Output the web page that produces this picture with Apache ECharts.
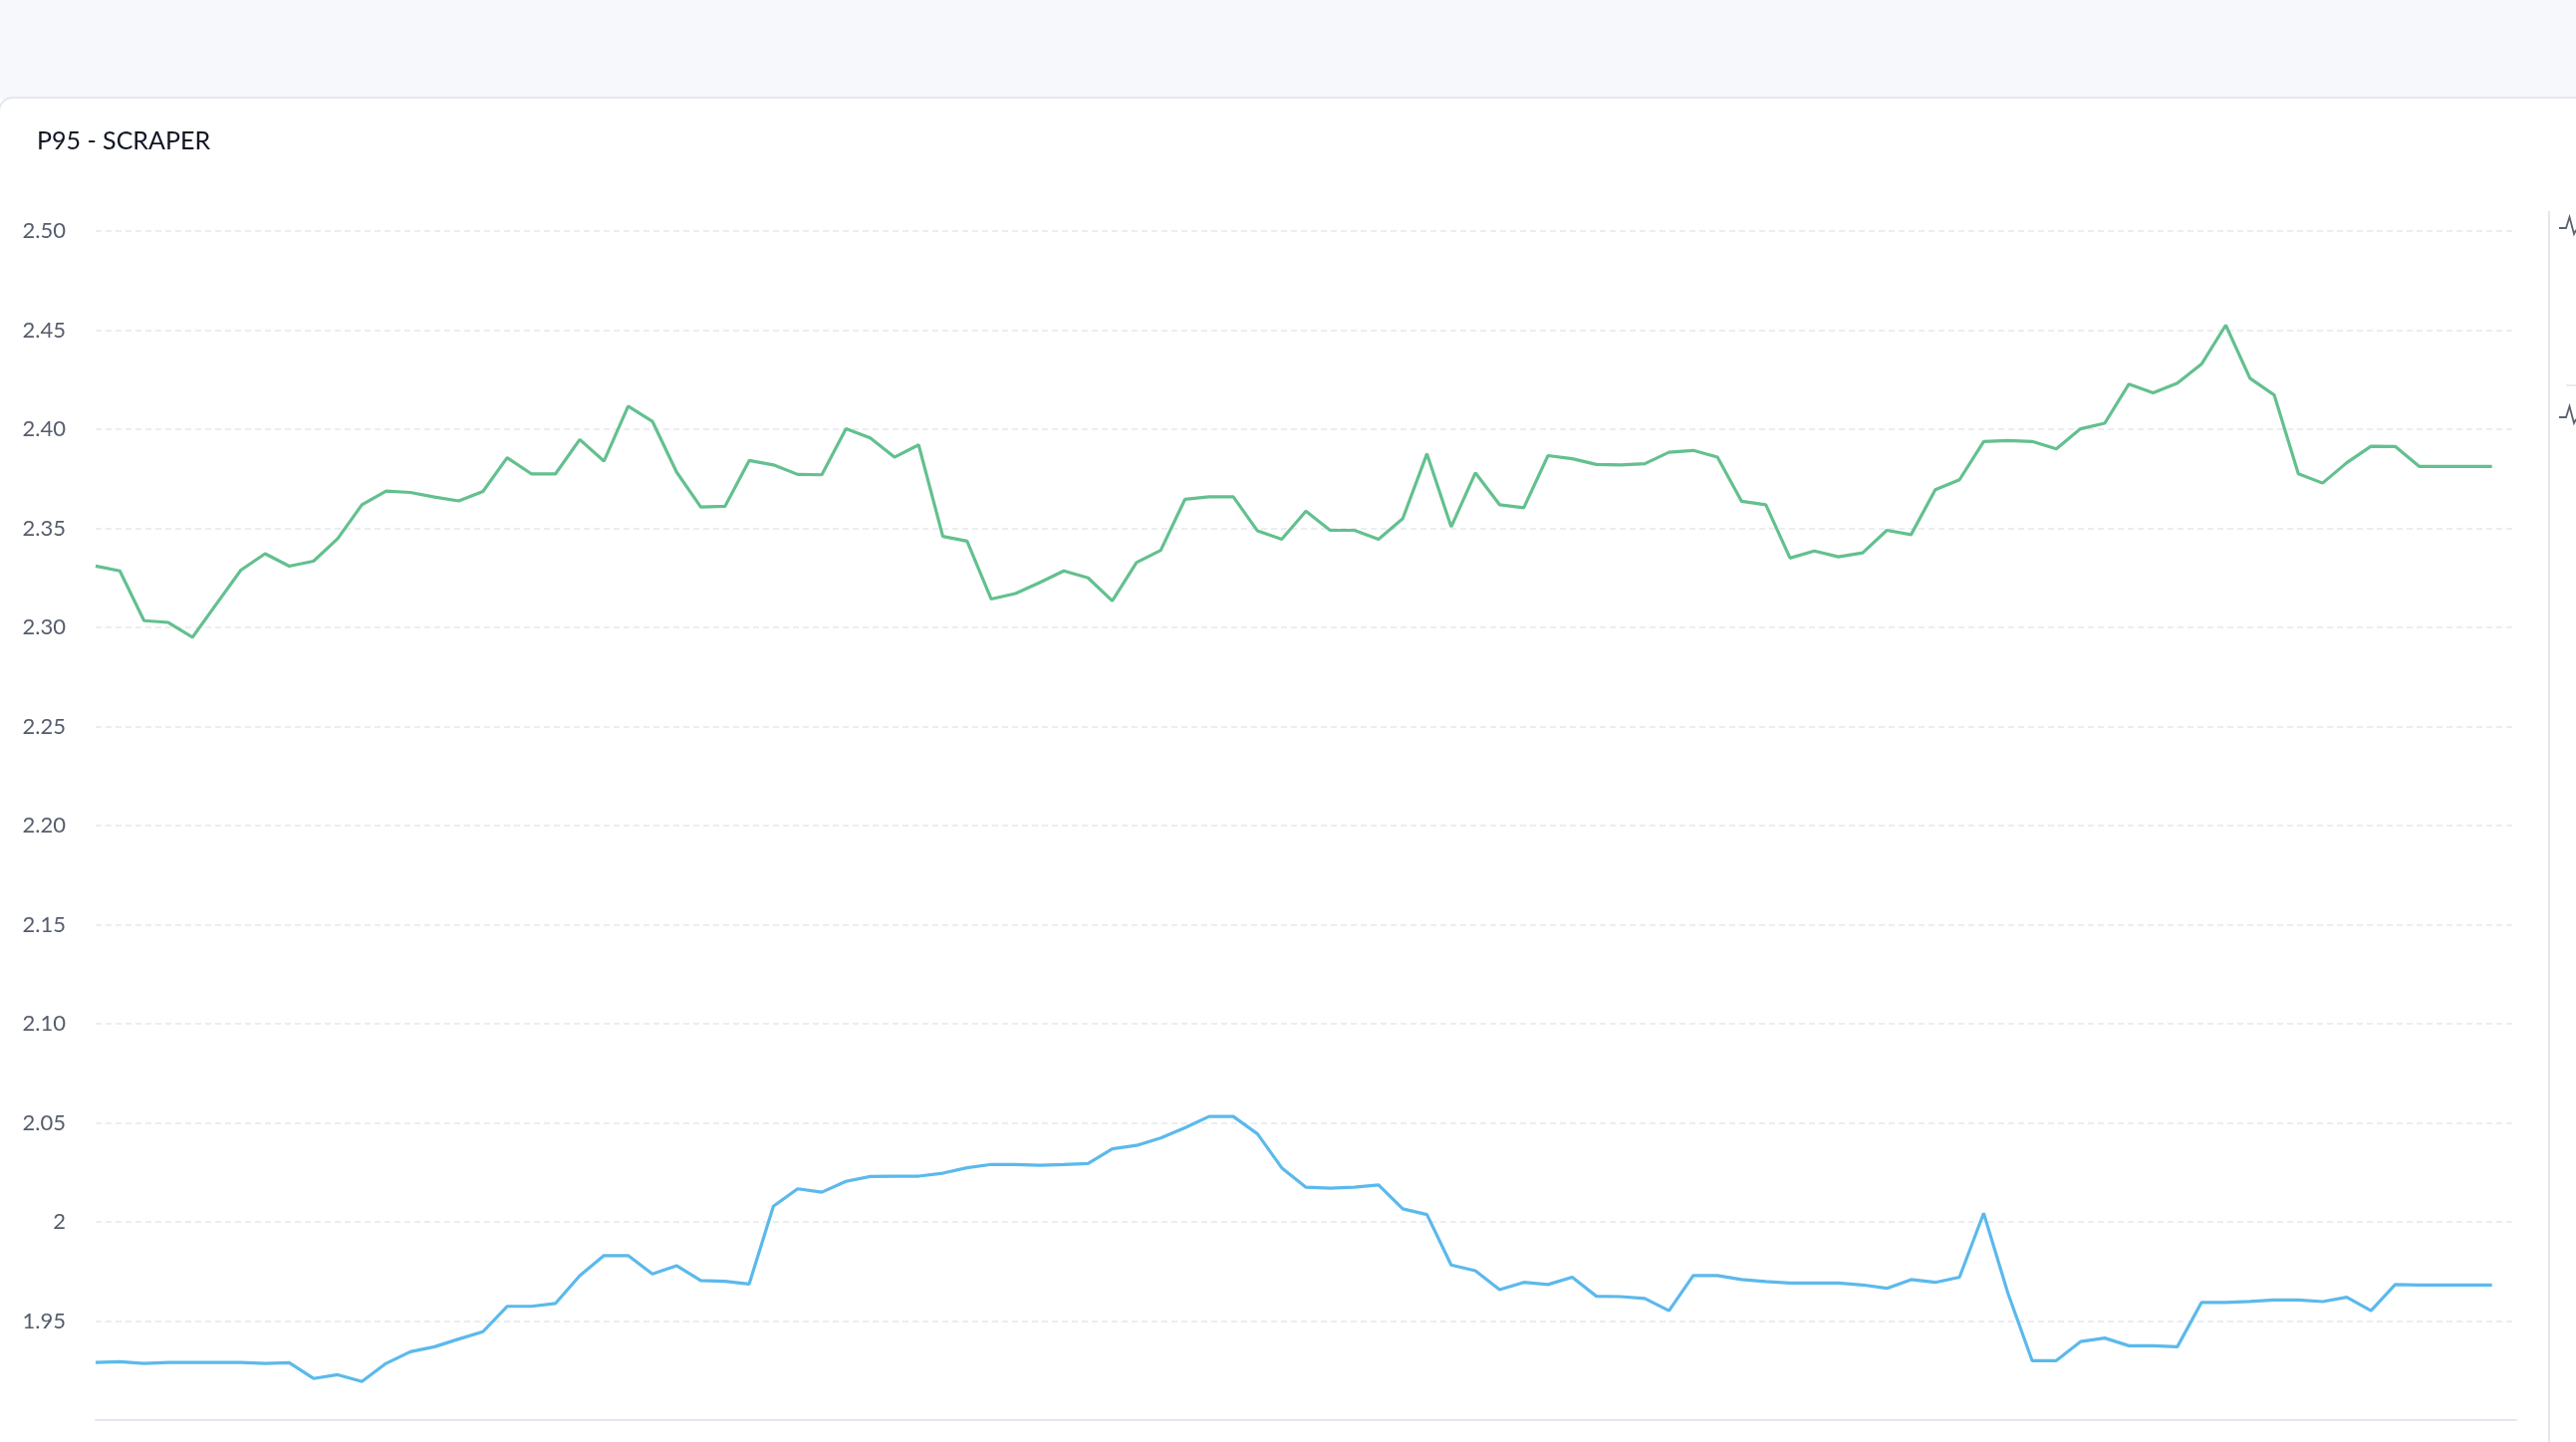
<!DOCTYPE html>
<html>
<head>
<meta charset="utf-8">
<script src="https://cdn.jsdelivr.net/npm/echarts@6/dist/echarts.min.js"></script>
<style>
  html, body { margin: 0; padding: 0; background: #ffffff; }
  #chart { width: 2586px; height: 1448px; }
</style>
</head>
<body>
<div id="chart"></div>
<script>
// ---- data ----
const chartTitle = 'P95 - SCRAPER';
const yTicks = { min: 1.9, max: 2.5, step: 0.05 };

const greenValues = [
  2.331, 2.3285, 2.3034, 2.3025, 2.295, 2.312, 2.3289, 2.3372, 2.3309, 2.3334,
  2.3448, 2.3619, 2.3688, 2.3681, 2.3658, 2.3638, 2.3686, 2.3856, 2.3775, 2.3775,
  2.3948, 2.3839, 2.4116, 2.404, 2.3784, 2.3607, 2.3611, 2.3842, 2.382, 2.3772,
  2.377, 2.4002, 2.3956, 2.3859, 2.3921, 2.3459, 2.3435, 2.3143, 2.3171, 2.3226,
  2.3285, 2.325, 2.3134, 2.3327, 2.3389, 2.3646, 2.3659, 2.3659, 2.3487, 2.3445,
  2.3587, 2.349, 2.349, 2.3445, 2.3549, 2.3876, 2.3507, 2.378, 2.3619, 2.3604,
  2.3867, 2.3851, 2.3822, 2.382, 2.3826, 2.3884, 2.3893, 2.3859, 2.3636, 2.3619,
  2.335, 2.3386, 2.3356, 2.3376, 2.349, 2.3468, 2.3695, 2.3745, 2.3938, 2.3943,
  2.3938, 2.3901, 2.4002, 2.403, 2.4228, 2.4183, 2.4232, 2.4329, 2.4525, 2.4257,
  2.4173, 2.3775, 2.3728, 2.3831, 2.3914, 2.3913, 2.3812, 2.3812, 2.3812, 2.3812,
  null
];

const blueValues = [
  1.9291, 1.9295, 1.9286, 1.9291, 1.9291, 1.9291, 1.9291, 1.9286, 1.929, 1.921,
  1.9229, 1.9195, 1.9286, 1.9345, 1.937, 1.9409, 1.9446, 1.9574, 1.9574, 1.9589,
  1.9729, 1.983, 1.983, 1.9737, 1.9779, 1.9704, 1.97, 1.9687, 2.0079, 2.0167,
  2.015, 2.0205, 2.0229, 2.0231, 2.0231, 2.0246, 2.0273, 2.029, 2.029, 2.0286,
  2.029, 2.0295, 2.0369, 2.0386, 2.0423, 2.0475, 2.0532, 2.0532, 2.0444, 2.0273,
  2.0175, 2.017, 2.0175, 2.0187, 2.0066, 2.0037, 1.9783, 1.9754, 1.9658, 1.9695,
  1.9684, 1.9721, 1.9625, 1.9623, 1.9614, 1.9552, 1.9729, 1.9729, 1.9709, 1.9699,
  1.9692, 1.9692, 1.9692, 1.9682, 1.9665, 1.9709, 1.9695, 1.9721, 2.0044, 1.9641,
  1.93, 1.93, 1.9396, 1.9414, 1.9375, 1.9375, 1.937, 1.9594, 1.9594, 1.9599,
  1.9606, 1.9606, 1.9598, 1.962, 1.9552, 1.9684, 1.9682, 1.9682, 1.9682, 1.9682,
  null
];

const categories = [];
for (let i = 0; i < greenValues.length; i++) categories.push('T' + (i + 1));

// ---- chart ----
const chart = echarts.init(document.getElementById('chart'), null, { renderer: 'canvas' });

function iconPoints(cy) {
  return [[2569, cy + 4], [2576, cy + 4], [2579.5, cy - 7], [2584, cy + 10], [2586, cy + 6]];
}

const option = {
  backgroundColor: '#ffffff',
  animation: false,
  graphic: [
    { type: 'rect', z: -10, silent: true, shape: { x: 0, y: 0, width: 2586, height: 100 }, style: { fill: '#f7f8fc' } },
    { type: 'rect', z: -9, silent: true, shape: { x: -1, y: 98, width: 2700, height: 1400, r: 14 }, style: { fill: '#ffffff', stroke: '#e3e7ee', lineWidth: 2 } },
    { type: 'line', z: -8, silent: true, shape: { x1: 2559, y1: 212, x2: 2559, y2: 1448 }, style: { stroke: '#e3e7ee', lineWidth: 2 } },
    { type: 'line', z: -8, silent: true, shape: { x1: 2576, y1: 387, x2: 2586, y2: 387 }, style: { stroke: '#e3e7ee', lineWidth: 1.5 } },
    { type: 'polyline', silent: true, shape: { points: iconPoints(225) }, style: { stroke: '#5b6270', lineWidth: 1.8, fill: null } },
    { type: 'polyline', silent: true, shape: { points: iconPoints(415) }, style: { stroke: '#5b6270', lineWidth: 1.8, fill: null } }
  ],
  title: {
    text: chartTitle,
    left: 32,
    top: 124,
    textStyle: { fontFamily: 'Lato, "Noto Sans", sans-serif', fontSize: 25, fontWeight: 'normal', color: '#0f1523' }
  },
  grid: { left: 96, right: 60, top: 232, bottom: 22, containLabel: false },
  xAxis: {
    type: 'category',
    data: categories,
    boundaryGap: false,
    axisLine: { show: true, lineStyle: { color: '#e3e7ee', width: 2 } },
    axisTick: { show: false },
    axisLabel: { show: false },
    splitLine: { show: false }
  },
  yAxis: {
    type: 'value',
    min: yTicks.min,
    max: yTicks.max,
    interval: yTicks.step,
    axisLine: { show: false },
    axisTick: { show: false },
    axisLabel: {
      showMinLabel: false,
      margin: 30,
      color: '#555d6b',
      fontSize: 22,
      fontFamily: 'Lato, "Noto Sans", sans-serif',
      formatter: function (v) {
        if (Math.abs(v - Math.round(v)) < 1e-9) return String(Math.round(v));
        return v.toFixed(2);
      }
    },
    splitLine: { show: true, lineStyle: { color: '#e3e7ee', type: [6, 4], width: 1.5 } }
  },
  series: [
    {
      name: 'green',
      type: 'line',
      data: greenValues,
      showSymbol: false,
      symbol: 'none',
      lineStyle: { color: '#63c08f', width: 3.2 },
      itemStyle: { color: '#63c08f' }
    },
    {
      name: 'blue',
      type: 'line',
      data: blueValues,
      showSymbol: false,
      symbol: 'none',
      lineStyle: { color: '#5bb9ec', width: 3.2 },
      itemStyle: { color: '#5bb9ec' }
    }
  ]
};

chart.setOption(option);
</script>
</body>
</html>
